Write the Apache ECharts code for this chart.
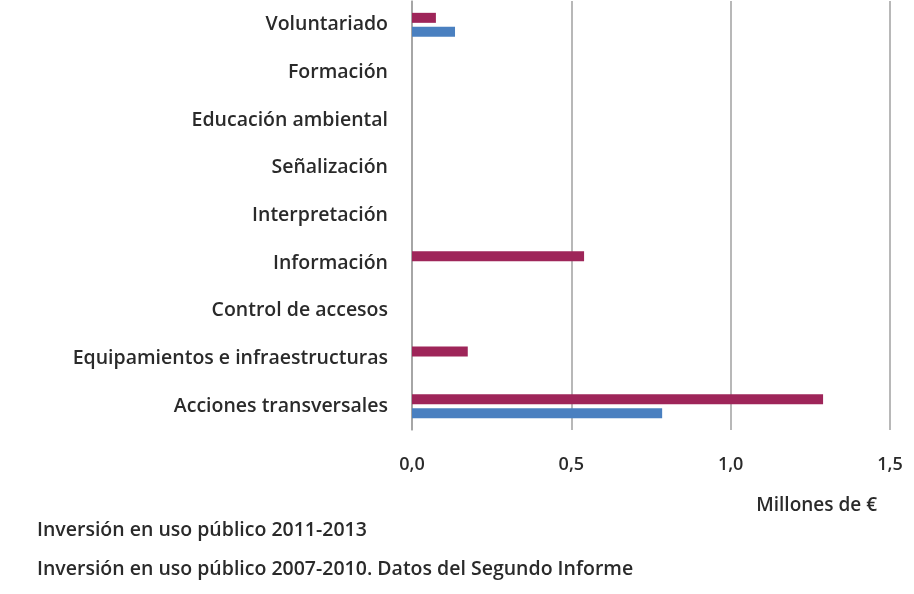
<!DOCTYPE html>
<html>
<head>
<meta charset="utf-8">
<script src="https://cdn.jsdelivr.net/npm/echarts@6/dist/echarts.min.js"></script>
<style>
html,body{margin:0;padding:0;background:#fff;}
#chart{width:914px;height:594px;}
</style>
</head>
<body>
<div id="chart"></div>
<script>
const categories = ["Acciones transversales","Equipamientos e infraestructuras","Control de accesos","Información","Interpretación","Señalización","Educación ambiental","Formación","Voluntariado"];
const seriesNames = ["Inversión en uso público 2011-2013","Inversión en uso público 2007-2010. Datos del Segundo Informe"];
const inv2011_2013 = [1.29, 0.175, 0, 0.54, 0, 0, 0, 0, 0.075];
const inv2007_2010 = [0.785, 0, 0, 0, 0, 0, 0, 0, 0.135];
const xTicks = [0, 0.5, 1.0, 1.5];
const axisTitle = "Millones de €";

const FONT = "'Open Sans', 'Liberation Sans', sans-serif";
const chart = echarts.init(document.getElementById('chart'));
chart.setOption({
  animation:false,
  textStyle:{fontFamily:FONT},
  grid:{left:412, right:24, top:1, bottom:164, containLabel:false},
  legend:{
    orient:'vertical', left:32, top:520, itemGap:19,
    itemWidth:0, itemHeight:0, icon:'rect', padding:0,
    textStyle:{fontFamily:FONT, fontSize:19.5, fontWeight:600, color:'#2a2a2a'},
    data:seriesNames
  },
  xAxis:{
    type:'value', min:xTicks[0], max:xTicks[xTicks.length-1], interval:0.5,
    axisLine:{show:false}, axisTick:{show:false},
    splitLine:{lineStyle:{color:'#a0a0a0', width:1.5}},
    axisLabel:{margin:26, fontFamily:FONT, fontSize:18, fontWeight:600, color:'#2a2a2a',
      formatter:v=>v.toFixed(1).replace('.',',')}
  },
  yAxis:{
    type:'category', data:categories,
    axisLine:{show:true, lineStyle:{color:'#a0a0a0', width:1.5}},
    axisTick:{show:false},
    axisLabel:{margin:24, fontFamily:FONT, fontSize:19.5, fontWeight:600, color:'#2a2a2a'}
  },
  graphic:[{type:'text', right:37, top:496, style:{text:axisTitle, font:"600 19px "+FONT, fill:'#2a2a2a'}}],
  series:[
    {name:seriesNames[0], type:'bar', data:inv2011_2013, barWidth:10, barGap:'40%', itemStyle:{color:'#9e2559'}},
    {name:seriesNames[1], type:'bar', data:inv2007_2010, barWidth:10, barGap:'40%', itemStyle:{color:'#4a80c0'}}
  ]
});
</script>
</body>
</html>
